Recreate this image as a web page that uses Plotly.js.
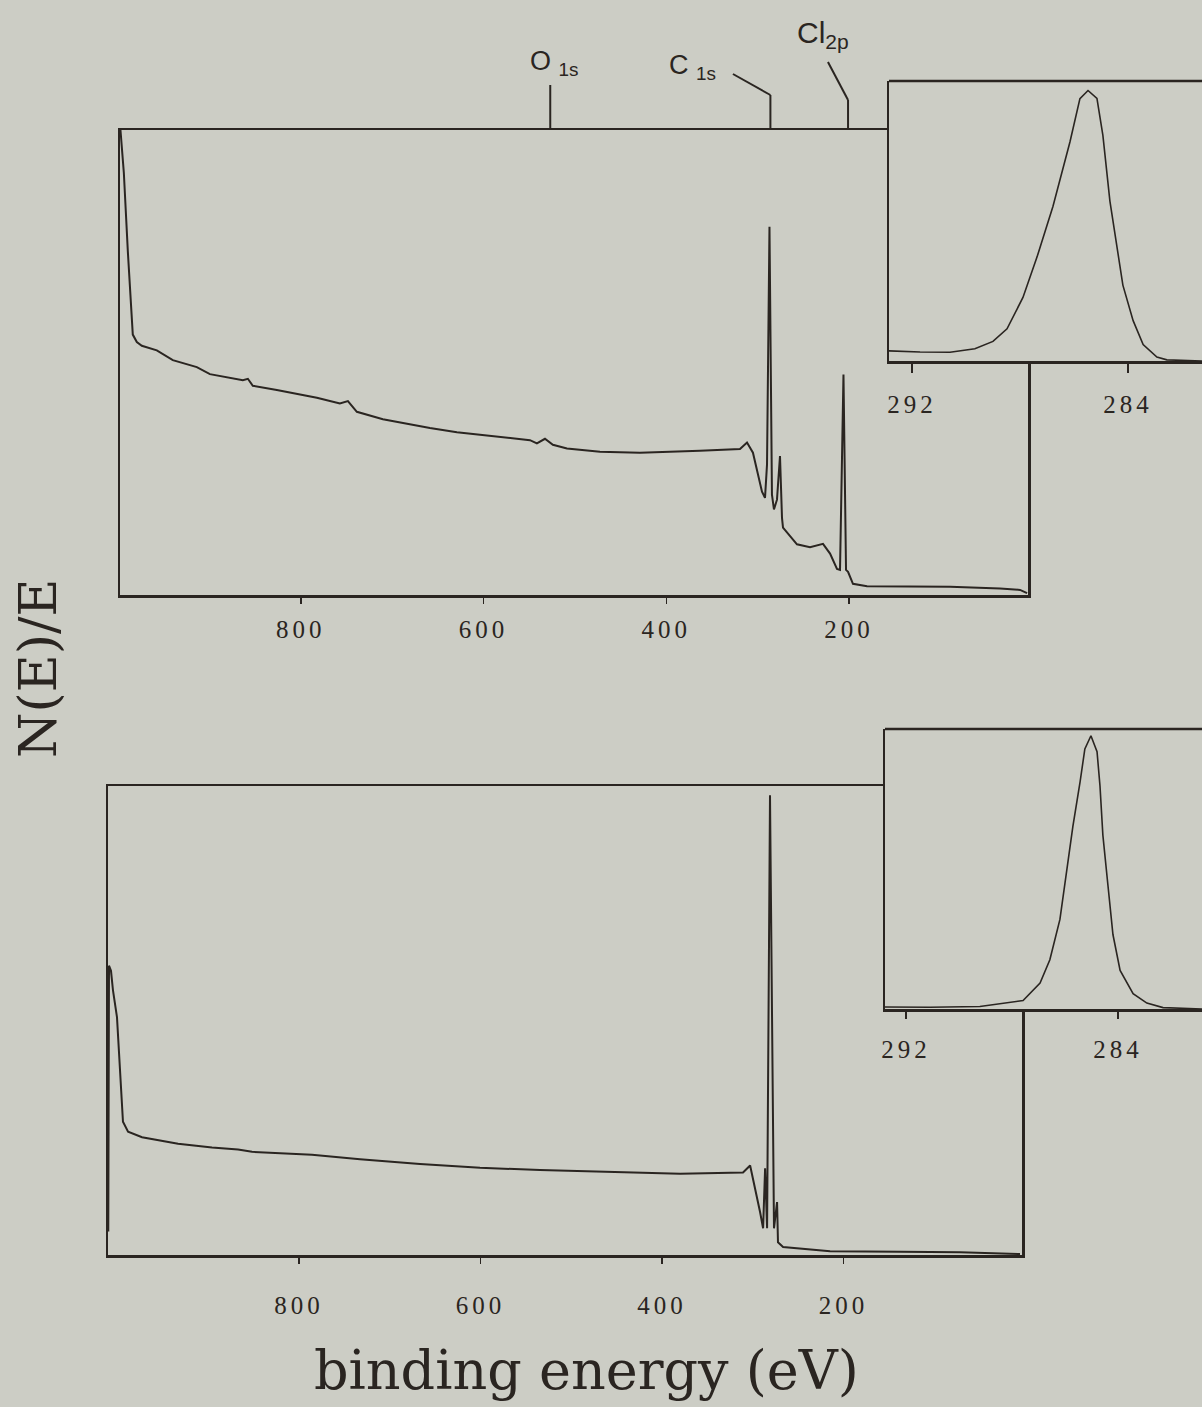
<!DOCTYPE html>
<html>
<head>
<meta charset="utf-8">
<script src="https://cdn.plot.ly/plotly-3.0.1.min.js"></script>
<style>
  html, body { margin: 0; padding: 0; background: #cccdc5; }
  #chart { width: 1202px; height: 1407px; }
  .xtick text, .x2tick text, .x3tick text, .x4tick text { letter-spacing: 4px; }
</style>
</head>
<body>
<div id="chart"></div>
<script>
// XPS survey spectra (binding energy in eV, N(E)/E in arbitrary units)
// Upper panel: survey with O 1s, C 1s and Cl 2p regions
const surveyUpperEnergy = [997.5, 993.8, 989.4, 985.1, 984.0, 979.6, 974.1, 957.7, 940.2, 913.9,
  899.6, 863.5, 858.0, 852.6, 826.3, 782.5, 757.3, 748.5, 738.7, 710.2,
  658.7, 629.2, 589.8, 549.2, 541.6, 532.8, 524.1, 508.7, 472.6, 428.8,
  363.1, 319.3, 311.6, 305.1, 295.2, 291.9, 289.7, 287.0, 284.3, 282.1,
  278.8, 275.5, 273.3, 272.2, 256.9, 242.6, 228.4, 220.7, 213.1, 209.8,
  206.0, 203.2, 201.0, 195.6, 180.2, 89.3, 34.6, 12.7, 5.0];
const surveyUpperSignal = [100, 90.8, 73.8, 60.3, 56.0, 54.4, 53.6, 52.6, 50.5, 49.0,
  47.5, 46.2, 46.5, 45.0, 44.1, 42.4, 41.2, 41.7, 39.4, 37.8,
  35.9, 35.0, 34.1, 33.3, 32.6, 33.6, 32.3, 31.5, 30.8, 30.6,
  31.0, 31.4, 32.8, 30.6, 22.2, 20.9, 28.1, 79.2, 21.6, 18.4,
  20.5, 29.9, 16.6, 14.5, 10.9, 10.3, 11.0, 8.9, 5.6, 5.4,
  47.4, 5.4, 5.0, 2.4, 1.9, 1.8, 1.4, 1.1, 0.4];

// Upper panel inset: C 1s high-resolution region
const c1sUpperEnergy = [292.85, 291.70, 290.59, 289.67, 289.00, 288.48, 287.89, 287.37, 286.78, 286.15,
  285.78, 285.48, 285.15, 284.93, 284.67, 284.41, 284.19, 283.81, 283.44, 282.93,
  282.56, 281.26];
const c1sUpperSignal = [3.6, 3.2, 3.1, 4.4, 7.0, 11.5, 22.7, 37.1, 55.2, 78.2,
  93.7, 96.6, 93.8, 80.6, 57.1, 40.3, 27.1, 14.4, 5.9, 1.4,
  0.4, 0.0];

// Lower panel: survey showing only the C 1s region
const surveyLowerEnergy = [1010.2, 1009.4, 1007.2, 1005.0, 1000.6, 997.3, 994.0, 988.4, 973.0, 933.3,
  895.9, 867.2, 851.8, 785.7, 732.8, 666.7, 600.5, 534.4, 468.3, 380.1,
  310.7, 302.9, 291.9, 288.6, 286.4, 284.2, 281.0, 276.6, 273.2, 272.2,
  266.6, 214.8, 137.7, 71.6, 5.5];
const surveyLowerSignal = [5, 61.7, 60.6, 56.4, 50.7, 39.4, 28.4, 26.3, 25.1, 23.7,
  22.9, 22.5, 22.0, 21.4, 20.4, 19.4, 18.6, 18.1, 17.7, 17.3,
  17.6, 19.1, 9.1, 5.7, 18.5, 5.7, 98.0, 5.7, 11.3, 2.7,
  1.7, 0.8, 0.7, 0.6, 0.2];

// Lower panel inset: C 1s high-resolution region
const c1sLowerEnergy = [292.79, 291.09, 289.21, 287.58, 286.94, 286.57, 286.19, 285.92, 285.70, 285.43,
  285.25, 285.02, 284.79, 284.68, 284.57, 284.38, 284.19, 283.92, 283.43, 282.91,
  282.30, 280.83];
const c1sLowerSignal = [0.7, 0.6, 0.9, 3.0, 9.3, 17.6, 32.0, 49.9, 65.3, 81.1,
  92.9, 97.6, 91.9, 79.8, 62.1, 44.3, 26.6, 13.8, 5.5, 2.1,
  0.5, 0.0];

// Tick values and labels
const surveyTicks = [800, 600, 400, 200];
const surveyTickLabels = ['800', '600', '400', '200'];
const c1sTicks = [292, 284];
const c1sTickLabels = ['292', '284'];

// Peak assignments marked above the upper survey
const peakLabels = ['O <sub>1s</sub>', 'C <sub>1s</sub>', 'Cl<sub>2p</sub>'];
const peakEnergies = [527, 286, 201];

const xTitle = 'binding energy (eV)';
const yTitle = 'N(E)/E';

// ---------- drawing ----------
const W = 1202, H = 1407;
const INK = '#2a2521';
const BG = '#cccdc5';
const dx = (a, b) => [a / W, b / W];
const dy = (top, bottom) => [1 - bottom / H, 1 - top / H];
const py = v => 1 - v / H;

const tickFont = { family: 'Liberation Serif, Times New Roman, serif', size: 25, color: INK };
const labelFont = { family: 'Liberation Sans, Arial, sans-serif', size: 27, color: INK };
const titleFont = { family: 'DejaVu Serif, serif', size: 54, color: INK };

function axis(extra) {
  return Object.assign({
    showgrid: false, zeroline: false, showline: true, linecolor: INK, linewidth: 2.5,
    ticks: '', showticklabels: false, fixedrange: true
  }, extra);
}
function energyAxis(extra) {
  return axis(Object.assign({
    ticks: 'outside', ticklen: 6, tickwidth: 1.5, tickcolor: INK,
    showticklabels: true, tickfont: tickFont, tickmode: 'array'
  }, extra));
}
function label(extra) {
  return Object.assign({ showarrow: false, xanchor: 'center', yanchor: 'middle' }, extra);
}

const traces = [
  { x: surveyUpperEnergy, y: surveyUpperSignal, xaxis: 'x', yaxis: 'y', w: 2 },
  { x: c1sUpperEnergy, y: c1sUpperSignal, xaxis: 'x2', yaxis: 'y2', w: 1.6 },
  { x: surveyLowerEnergy, y: surveyLowerSignal, xaxis: 'x3', yaxis: 'y3', w: 2 },
  { x: c1sLowerEnergy, y: c1sLowerSignal, xaxis: 'x4', yaxis: 'y4', w: 1.6 }
].map(t => ({
  type: 'scatter', mode: 'lines', x: t.x, y: t.y, xaxis: t.xaxis, yaxis: t.yaxis,
  line: { color: INK, width: t.w }, hoverinfo: 'skip', showlegend: false
}));

const layout = {
  width: W, height: H,
  margin: { l: 0, r: 0, t: 0, b: 0 },
  paper_bgcolor: BG, plot_bgcolor: BG,
  showlegend: false,
  xaxis: energyAxis({ domain: dx(120, 1028), range: [998, 4], mirror: true, anchor: 'y',
    tickvals: surveyTicks, ticktext: surveyTickLabels, ticklabelstandoff: 4 }),
  yaxis: axis({ domain: dy(130, 595), range: [0, 100], mirror: true, anchor: 'x' }),
  xaxis2: energyAxis({ domain: dx(889, 1202), range: [292.85, 281.26], anchor: 'y2',
    ticklen: 9, tickvals: c1sTicks, ticktext: c1sTickLabels, ticklabelstandoff: 10 }),
  yaxis2: axis({ domain: dy(81, 361), range: [0, 100], anchor: 'x2' }),
  xaxis3: energyAxis({ domain: dx(108, 1022), range: [1010.5, 3.3], mirror: true, anchor: 'y3',
    tickvals: surveyTicks, ticktext: surveyTickLabels, ticklabelstandoff: 20 }),
  yaxis3: axis({ domain: dy(786, 1255), range: [0, 100], mirror: true, anchor: 'x3' }),
  xaxis4: energyAxis({ domain: dx(885, 1202), range: [292.79, 280.83], anchor: 'y4',
    ticklen: 7, tickvals: c1sTicks, ticktext: c1sTickLabels, ticklabelstandoff: 9 }),
  yaxis4: axis({ domain: dy(729, 1009), range: [0, 100], anchor: 'x4' }),
  shapes: [
    // top edges of the insets (right edges run off the figure)
    { type: 'line', xref: 'x2 domain', yref: 'y2 domain', x0: 0, x1: 1, y0: 1, y1: 1,
      line: { color: INK, width: 2.5 } },
    { type: 'line', xref: 'x4 domain', yref: 'y4 domain', x0: 0, x1: 1, y0: 1, y1: 1,
      line: { color: INK, width: 2.5 } },
    // peak marker leaders
    { type: 'line', xref: 'x', yref: 'paper', x0: peakEnergies[0], x1: peakEnergies[0],
      y0: py(85), y1: py(130), line: { color: INK, width: 2 } },
    { type: 'line', xref: 'x', yref: 'paper', x0: peakEnergies[1], x1: peakEnergies[1],
      y0: py(95), y1: py(130), line: { color: INK, width: 2 } },
    { type: 'line', xref: 'x', yref: 'paper', x0: peakEnergies[1] + 41, x1: peakEnergies[1],
      y0: py(74), y1: py(95), line: { color: INK, width: 2 } },
    { type: 'line', xref: 'x', yref: 'paper', x0: peakEnergies[2], x1: peakEnergies[2],
      y0: py(100), y1: py(130), line: { color: INK, width: 2 } },
    { type: 'line', xref: 'x', yref: 'paper', x0: peakEnergies[2] + 22, x1: peakEnergies[2],
      y0: py(62), y1: py(100), line: { color: INK, width: 2 } }
  ],
  annotations: [
    label({ text: peakLabels[0], xref: 'x', yref: 'paper', x: peakEnergies[0], y: py(63), xshift: 4,
      font: labelFont }),
    label({ text: peakLabels[1], xref: 'x', yref: 'paper', x: peakEnergies[1], y: py(67), xshift: -78,
      font: labelFont }),
    label({ text: peakLabels[2], xref: 'x', yref: 'paper', x: peakEnergies[2], y: py(34), xshift: -25,
      font: Object.assign({}, labelFont, { size: 30 }) }),
    label({ text: xTitle, xref: 'paper', yref: 'paper', x: 586 / W, y: py(1370),
      font: titleFont }),
    label({ text: yTitle, xref: 'paper', yref: 'paper', x: 38 / W, y: py(668), textangle: -90,
      font: Object.assign({}, titleFont, { size: 52 }) })
  ]
};

Plotly.newPlot('chart', traces, layout, { staticPlot: true, displayModeBar: false });
</script>
</body>
</html>
